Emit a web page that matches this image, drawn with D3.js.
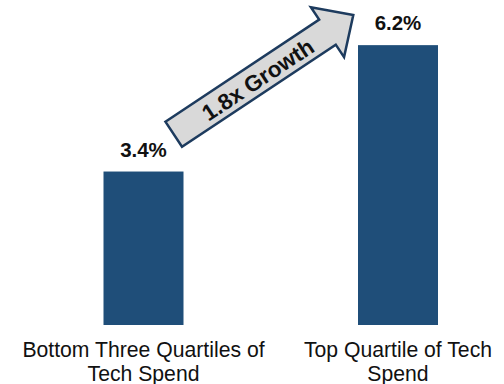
<!DOCTYPE html>
<html>
<head>
<meta charset="utf-8">
<script src="https://cdn.jsdelivr.net/npm/d3@7"></script>
<style>
  html, body { margin: 0; padding: 0; background: #fff; }
  svg { display: block; font-family: "Liberation Sans", Arial, sans-serif; }
</style>
</head>
<body>
<script>
// data
const categories = ["Bottom Three Quartiles of Tech Spend", "Top Quartile of Tech Spend"];
const labelLines = [["Bottom Three Quartiles of", "Tech Spend"], ["Top Quartile of Tech", "Spend"]];
const values = [3.4, 6.2];
const growthLabel = "1.8x Growth";

const width = 504, height = 384;
const barColor = "#1f4e79";

const svg = d3.select("body").append("svg")
    .attr("width", width)
    .attr("height", height);

const x = d3.scalePoint()
    .domain(categories)
    .range([143.5, 398]);
const barW = 80;

const y = d3.scaleLinear()
    .domain([0, 7.2])
    .range([325, 0]);

// bars
svg.selectAll("rect.bar")
    .data(values)
    .enter().append("rect")
    .attr("class", "bar")
    .attr("x", (d, i) => x(categories[i]) - barW / 2)
    .attr("y", d => y(d))
    .attr("width", barW)
    .attr("height", d => y(0) - y(d))
    .attr("fill", barColor);

// value labels
svg.selectAll("text.val")
    .data(values)
    .enter().append("text")
    .attr("class", "val")
    .attr("x", (d, i) => x(categories[i]))
    .attr("y", d => y(d) - 15)
    .attr("text-anchor", "middle")
    .style("font-size", "20.5px")
    .style("font-weight", "bold")
    .style("fill", "#111")
    .text(d => d.toFixed(1) + "%");

// category labels
const cat = svg.selectAll("text.cat")
    .data(labelLines)
    .enter().append("text")
    .attr("class", "cat")
    .attr("text-anchor", "middle")
    .style("font-size", "21.2px")
    .style("fill", "#111");
cat.selectAll("tspan")
    .data((d, i) => d.map(t => ({t, cx: x(categories[i])})))
    .enter().append("tspan")
    .attr("x", d => d.cx)
    .attr("y", (d, j) => 357 + j * 24)
    .text(d => d.t);

// growth arrow
const tail = [173.7, 134.2], tip = [353.3, 15];
const dx = tip[0] - tail[0], dy = tip[1] - tail[1];
const len = Math.hypot(dx, dy);
const ang = Math.atan2(dy, dx) * 180 / Math.PI;
const shaftH = 15, headH = 30, headL = 31;

const arrow = svg.append("g")
    .attr("transform", `translate(${tail[0]},${tail[1]}) rotate(${ang})`);

arrow.append("path")
    .attr("d", d3.line()([
      [0, -shaftH], [len - headL, -shaftH], [len - headL, -headH], [len, 0],
      [len - headL, headH], [len - headL, shaftH], [0, shaftH]
    ]) + "Z")
    .attr("fill", "#d9d9d9")
    .attr("stroke", "#1d3b5e")
    .attr("stroke-width", 2.5)
    .attr("stroke-linejoin", "miter");

arrow.append("text")
    .attr("x", (len - headL) / 2 + 8)
    .attr("y", 1.5)
    .attr("text-anchor", "middle")
    .attr("dominant-baseline", "central")
    .style("font-size", "22.5px")
    .style("font-weight", "bold")
    .style("fill", "#111")
    .text(growthLabel);
</script>
</body>
</html>
